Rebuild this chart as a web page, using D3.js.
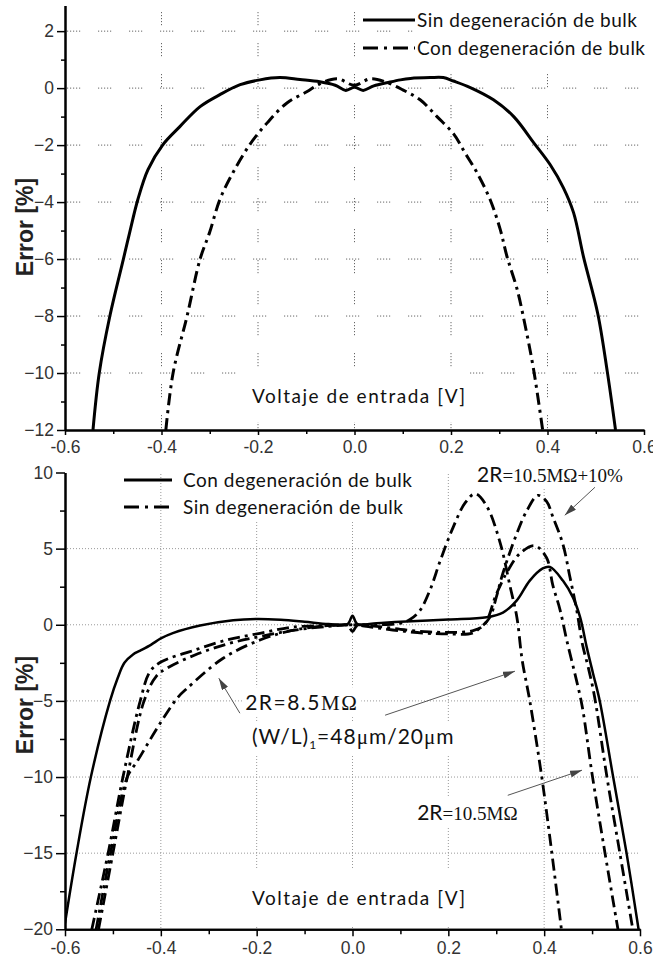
<!DOCTYPE html>
<html>
<head>
<meta charset="utf-8">
<script src="https://cdn.jsdelivr.net/npm/d3@7/dist/d3.min.js"></script>
<style>
  body { margin: 0; background: #fff; }
  svg { display: block; }
</style>
</head>
<body>
<svg id="chart" width="653" height="963"></svg>
<script>
// ---- shared ticks ----
const xMajor = [-0.6, -0.4, -0.2, 0.0, 0.2, 0.4, 0.6];
const xMinor = [-0.5, -0.3, -0.1, 0.1, 0.3, 0.5];
const xGrid = [-0.4, -0.2, 0.0, 0.2, 0.4];

// ---- upper chart ----
const topYMajor = [2, 0, -2, -4, -6, -8, -10, -12];
const topYMinor = [1, -1, -3, -5, -7, -9, -11];
const topYGrid = [2, 0, -2, -4, -6, -8, -10];
const topLegend = ['Sin degeneración de bulk', 'Con degeneración de bulk'];

const topSinBulk = [
  [-0.542, -12], [-0.529, -10], [-0.507, -8], [-0.479, -6], [-0.466, -5.07],
  [-0.449, -3.91], [-0.428, -2.86], [-0.397, -1.98], [-0.362, -1.35], [-0.32, -0.65],
  [-0.279, -0.23], [-0.237, 0.12], [-0.196, 0.29], [-0.155, 0.37], [-0.113, 0.3],
  [-0.072, 0.22], [-0.04, 0.1], [-0.018, -0.08], [0, 0.03], [0.018, -0.08], [0.04, 0.08],
  [0.07, 0.2], [0.095, 0.29], [0.116, 0.34], [0.157, 0.37], [0.184, 0.37], [0.205, 0.25],
  [0.24, 0.02], [0.288, -0.41], [0.33, -1.0], [0.372, -1.93], [0.406, -2.7], [0.433, -3.5],
  [0.454, -4.37], [0.475, -5.95], [0.504, -7.9], [0.524, -9.96], [0.541, -12]
];
const topConBulk = [
  [-0.391, -12], [-0.376, -10], [-0.347, -8], [-0.32, -6], [-0.3, -5.05], [-0.279, -3.91],
  [-0.252, -2.97], [-0.217, -1.98], [-0.181, -1.22], [-0.14, -0.52], [-0.099, -0.13],
  [-0.072, 0.15], [-0.036, 0.33], [0, 0.1], [0.033, 0.33], [0.067, 0.2], [0.1, -0.06],
  [0.136, -0.41], [0.171, -1.0], [0.205, -1.6], [0.23, -2.3], [0.254, -2.97], [0.281, -3.91],
  [0.302, -4.96], [0.316, -5.91], [0.337, -7.06], [0.354, -8.36], [0.371, -9.86], [0.39, -12]
];

// ---- lower chart ----
const botYMajor = [10, 5, 0, -5, -10, -15, -20];
const botYMinor = [7.5, 2.5, -2.5, -7.5, -12.5, -17.5];
const botYGrid = [5, 0, -5, -10, -15];
const botLegend = ['Con degeneración de bulk', 'Sin degeneración de bulk'];

const botConBulk = [
  [-0.6, -19.6], [-0.576, -15], [-0.546, -10], [-0.506, -5], [-0.49, -3.5], [-0.476, -2.5],
  [-0.458, -1.95], [-0.443, -1.7], [-0.42, -1.3], [-0.4, -0.9], [-0.375, -0.55], [-0.318, -0.05],
  [-0.249, 0.3], [-0.2, 0.38], [-0.15, 0.33], [-0.1, 0.2], [-0.05, 0.05], [-0.01, 0.05],
  [0, 0.6], [0.01, 0.05], [0.05, 0.1], [0.1, 0.2], [0.2, 0.35], [0.28, 0.5], [0.314, 0.8],
  [0.343, 1.6], [0.37, 2.9], [0.397, 3.7], [0.412, 3.8], [0.439, 2.9], [0.46, 1.8],
  [0.475, 0.5], [0.489, -1.5], [0.502, -3.2], [0.516, -5], [0.544, -10], [0.572, -15], [0.597, -20]
];
const botSin85 = [
  [-0.535, -20], [-0.505, -15], [-0.47, -10], [-0.448, -8.9], [-0.402, -6.5], [-0.364, -4.75],
  [-0.346, -4.2], [-0.27, -2.2], [-0.193, -1.0], [-0.124, -0.36], [-0.05, -0.05], [0, 0],
  [0.05, 0.0], [0.1, 0.1], [0.12, 0.35], [0.14, 0.9], [0.162, 2.3], [0.183, 4.2], [0.21, 6.4],
  [0.235, 8.0], [0.256, 8.6], [0.28, 7.8], [0.308, 5.4], [0.329, 2.5], [0.343, 0.5],
  [0.354, -2.3], [0.37, -5], [0.395, -10], [0.412, -14], [0.436, -20]
];
const botSin105 = [
  [-0.544, -20], [-0.51, -15], [-0.479, -10], [-0.443, -5], [-0.423, -3.1], [-0.4, -2.45],
  [-0.333, -1.7], [-0.262, -1.0], [-0.193, -0.56], [-0.124, -0.15], [-0.05, -0.05],
  [-0.01, -0.05], [0, -0.45], [0.01, -0.05], [0.05, -0.1], [0.1, -0.3], [0.15, -0.45],
  [0.2, -0.5], [0.25, -0.4], [0.275, 0.0], [0.3, 2.0], [0.325, 3.6], [0.35, 4.7], [0.38, 5.2],
  [0.405, 4.4], [0.418, 2.6], [0.433, 1.0], [0.447, -1], [0.464, -3.2], [0.479, -5.3],
  [0.5, -9.8], [0.527, -15], [0.554, -20]
];
const botSin105p10 = [
  [-0.53, -20], [-0.5, -15], [-0.47, -10], [-0.435, -5], [-0.41, -3.4], [-0.387, -2.85],
  [-0.33, -2.0], [-0.26, -1.25], [-0.19, -0.75], [-0.12, -0.35], [-0.05, -0.1], [0, 0],
  [0.05, -0.2], [0.1, -0.4], [0.15, -0.55], [0.2, -0.6], [0.25, -0.55], [0.27, -0.1],
  [0.287, 0.5], [0.3, 1.8], [0.314, 3.4], [0.343, 6], [0.364, 7.5], [0.387, 8.5], [0.405, 8.1],
  [0.418, 7.1], [0.439, 5.3], [0.454, 3.1], [0.468, 0.95], [0.48, -1.3], [0.492, -2.8],
  [0.505, -4.7], [0.531, -10], [0.558, -15], [0.585, -20]
];

// annotations of the lower chart: [x, y] in data units
const arrows = [
  [[-0.235, -5.81], [-0.279, -3.51]],
  [[0.068, -5.94], [0.339, -3.05]],
  [[0.324, -11.2], [0.479, -9.55]],
  [[0.506, 9.03], [0.443, 7.19]]
];

const DASHDOT = '12 5 3 5';
const sansTitle = 'Lato, "Open Sans", sans-serif';
const sansTick = '"Liberation Sans", Arial, sans-serif';
const serif = '"Liberation Serif", "Times New Roman", serif';

const svg = d3.select('#chart');
const defs = svg.append('defs');
defs.append('marker')
  .attr('id', 'arrow')
  .attr('viewBox', '0 0 10 10')
  .attr('refX', 10).attr('refY', 5)
  .attr('markerUnits', 'userSpaceOnUse')
  .attr('markerWidth', 12).attr('markerHeight', 7)
  .attr('preserveAspectRatio', 'none')
  .attr('orient', 'auto')
  .append('path').attr('d', 'M0,0L10,5L0,10z').attr('fill', '#444');

function boxBehind(layer, textSel, padX, padY) {
  const b = textSel.node().getBBox();
  layer.append('rect')
    .attr('x', b.x - padX).attr('y', b.y - padY)
    .attr('width', b.width + 2 * padX).attr('height', b.height + 2 * padY)
    .attr('fill', '#fff');
}

function drawPanel(p) {
  const x = d3.scaleLinear().domain([-0.6, 0.6]).range([p.left, p.right]);
  const y = d3.scaleLinear().domain(p.yDomain).range([p.bottom, p.top]);
  const g = svg.append('g');

  defs.append('clipPath').attr('id', p.id + '-clip')
    .append('rect')
    .attr('x', p.left).attr('y', p.top)
    .attr('width', p.right - p.left).attr('height', p.bottom - p.top);

  const gridLayer = g.append('g');
  const boxLayer = g.append('g');
  const curveLayer = g.append('g').attr('clip-path', `url(#${p.id}-clip)`);
  const axisLayer = g.append('g');
  const labelLayer = g.append('g');

  // grid
  gridLayer.selectAll('.gx').data(xGrid).join('line')
    .attr('x1', d => x(d)).attr('x2', d => x(d))
    .attr('y1', p.gridTop).attr('y2', p.bottom)
    .attr('stroke', p.gridColor).attr('stroke-width', 1).attr('stroke-dasharray', p.gridDash);
  gridLayer.selectAll('.gy').data(p.yGrid).join('line')
    .attr('x1', p.left + 2).attr('x2', p.gridRight)
    .attr('y1', d => y(d)).attr('y2', d => y(d))
    .attr('stroke', p.gridColor).attr('stroke-width', 1).attr('stroke-dasharray', p.gridDash);

  // curves
  const line = d3.line().x(d => x(d[0])).y(d => y(d[1])).curve(d3.curveCatmullRom.alpha(0.5));
  p.series.forEach(s => {
    curveLayer.append('path')
      .attr('d', line(s.data))
      .attr('fill', 'none')
      .attr('stroke', '#000')
      .attr('stroke-width', s.width)
      .attr('stroke-dasharray', s.dash);
  });

  // axes
  const fmtX = d => d.toFixed(1);
  const xMin = axisLayer.append('g').attr('transform', `translate(0,${p.bottom})`)
    .call(d3.axisBottom(x).tickValues(xMinor).tickSize(p.xMinorLen).tickFormat('').tickSizeOuter(0));
  const xMaj = axisLayer.append('g').attr('transform', `translate(0,${p.bottom})`)
    .call(d3.axisBottom(x).tickValues(xMajor).tickSize(p.xMajorLen).tickPadding(p.xPad)
      .tickFormat(fmtX).tickSizeOuter(0));
  const yMin = axisLayer.append('g').attr('transform', `translate(${p.left},0)`)
    .call(d3.axisLeft(y).tickValues(p.yMinor).tickSize(p.yMinorLen).tickFormat('').tickSizeOuter(0));
  const yMaj = axisLayer.append('g').attr('transform', `translate(${p.left},0)`)
    .call(d3.axisLeft(y).tickValues(p.yMajor).tickSize(p.yMajorLen).tickPadding(3).tickSizeOuter(0));
  [xMin, xMaj, yMin, yMaj].forEach(a => {
    a.select('.domain').attr('stroke', '#000').attr('stroke-width', 2);
    a.selectAll('.tick line').attr('stroke', '#000').attr('stroke-width', 1.5);
    a.selectAll('.tick text').attr('fill', '#333')
      .attr('font-family', sansTick).attr('font-size', p.tickFont);
  });

  // y axis title
  labelLayer.append('text')
    .attr('transform', `translate(33,${p.yTitleY}) rotate(-90)`)
    .attr('text-anchor', 'middle')
    .attr('font-family', sansTick).attr('font-weight', 'bold').attr('font-size', 23)
    .attr('fill', '#222')
    .text('Error [%]');

  // x axis title with white box
  const xt = labelLayer.append('text')
    .attr('x', p.xTitle[0]).attr('y', p.xTitle[1])
    .attr('font-family', sansTitle).attr('font-size', 19).attr('fill', '#111')
    .attr('textLength', 213)
    .text('Voltaje de entrada [V]');
  boxBehind(boxLayer, xt, 4, p.xTitlePadY);

  // legend
  p.legend.forEach((lab, i) => {
    const ly = p.legendY[i];
    labelLayer.append('line')
      .attr('x1', p.legendX[0]).attr('x2', p.legendX[1])
      .attr('y1', ly).attr('y2', ly)
      .attr('stroke', '#000').attr('stroke-width', 3)
      .attr('stroke-dasharray', p.legendDash[i]);
    const t = labelLayer.append('text')
      .attr('x', p.legendX[2]).attr('y', ly + 7)
      .attr('font-family', sansTitle).attr('font-size', 19).attr('fill', '#111')
      .attr('textLength', p.legendLen[i])
      .text(lab);
    boxBehind(boxLayer, t, 3, 3);
  });

  return { x, y, labelLayer, boxLayer };
}

// ---- upper panel ----
drawPanel({
  id: 'top', left: 65, right: 644, top: 5.5, bottom: 430,
  yDomain: [-12, 2.9], yMajor: topYMajor, yMinor: topYMinor, yGrid: topYGrid,
  gridTop: 12, gridRight: 640, gridColor: '#666',
  gridDash: '1.2 1.8 1.2 1.8 1.2 1.8 1.2 1.8 1.2 17.8',
  xMajorLen: 5, xMinorLen: 4, yMajorLen: 8, yMinorLen: 4, xPad: 6, tickFont: 17.5,
  yTitleY: 227, xTitle: [252, 403], xTitlePadY: 15,
  series: [
    { data: topSinBulk, width: 3, dash: null },
    { data: topConBulk, width: 3, dash: DASHDOT }
  ],
  legend: topLegend, legendY: [20, 48], legendX: [363, 415, 417], legendLen: [220, 228],
  legendDash: [null, '15 6 3 6']
});

// ---- lower panel ----
const low = drawPanel({
  id: 'bot', left: 65, right: 640, top: 472.5, bottom: 929.3,
  yDomain: [-20, 10], yMajor: botYMajor, yMinor: botYMinor, yGrid: botYGrid,
  gridTop: 474, gridRight: 640, gridColor: '#999', gridDash: '1 2',
  xMajorLen: 7, xMinorLen: 5, yMajorLen: 9, yMinorLen: 5, xPad: 5, tickFont: 17.5,
  yTitleY: 705, xTitle: [252, 905], xTitlePadY: 16,
  series: [
    { data: botConBulk, width: 2.5, dash: null },
    { data: botSin85, width: 2.8, dash: DASHDOT },
    { data: botSin105, width: 2.8, dash: DASHDOT },
    { data: botSin105p10, width: 2.8, dash: DASHDOT }
  ],
  legend: botLegend, legendY: [480, 507], legendX: [124, 172, 183], legendLen: [229, 220],
  legendDash: [null, '15 6 3 6']
});

// annotations
const ax = low.x, ay = low.y, L = low.labelLayer, B = low.boxLayer;
arrows.forEach(a => {
  L.append('line')
    .attr('x1', ax(a[0][0])).attr('y1', ay(a[0][1]))
    .attr('x2', ax(a[1][0])).attr('y2', ay(a[1][1]))
    .attr('stroke', '#555').attr('stroke-width', 1)
    .attr('marker-end', 'url(#arrow)');
});

const t1 = L.append('text')
  .attr('x', ax(-0.224)).attr('y', ay(-5.61))
  .attr('font-family', sansTitle).attr('font-size', 21).attr('fill', '#111')
  .attr('letter-spacing', 1.5);
t1.append('tspan').text('2R=8.5');
t1.append('tspan').attr('font-family', serif).text('MΩ');
boxBehind(B, t1, 3, 2);

const t2 = L.append('text')
  .attr('x', ax(-0.21)).attr('y', ay(-7.85))
  .attr('font-family', sansTitle).attr('font-size', 21).attr('fill', '#111')
  .attr('letter-spacing', 1);
t2.append('tspan').text('(W/L)');
t2.append('tspan').attr('font-size', 12).attr('dy', 5).text('1');
t2.append('tspan').attr('dy', -5).text('=48');
t2.append('tspan').attr('font-family', serif).text('μ');
t2.append('tspan').text('m/20');
t2.append('tspan').attr('font-family', serif).text('μ');
t2.append('tspan').text('m');
boxBehind(B, t2, 3, 2);

const t3 = L.append('text')
  .attr('x', ax(0.135)).attr('y', ay(-12.84))
  .attr('font-size', 19).attr('fill', '#111');
t3.append('tspan').attr('font-family', sansTitle).attr('font-size', 21).text('2R');
t3.append('tspan').attr('font-family', serif).text('=10.5MΩ');
boxBehind(B, t3, 3, 2);

const t4 = L.append('text')
  .attr('x', ax(0.26)).attr('y', ay(9.36))
  .attr('font-size', 19).attr('fill', '#111');
t4.append('tspan').attr('font-family', sansTitle).attr('font-size', 21).text('2R');
t4.append('tspan').attr('font-family', serif).text('=10.5MΩ+10%');
boxBehind(B, t4, 3, 2);
</script>
</body>
</html>
